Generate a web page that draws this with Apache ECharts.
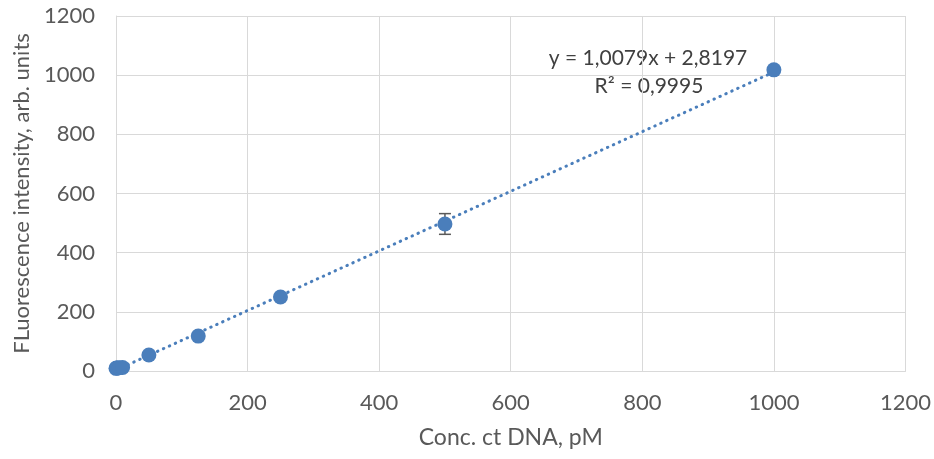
<!DOCTYPE html>
<html>
<head>
<meta charset="utf-8">
<script src="https://cdn.jsdelivr.net/npm/echarts@6/dist/echarts.min.js"></script>
<style>
  html, body { margin: 0; padding: 0; background: #fff; }
  #chart { width: 934px; height: 459px; }
</style>
</head>
<body>
<div id="chart"></div>
<script>
// Calibration data: concentration of ct DNA (pM) vs fluorescence intensity
const concentrations = [0, 1, 2, 5, 10, 50, 125, 250, 500, 1000];
const intensities    = [9, 10, 10, 11, 12, 54, 118, 250, 497, 1018];
// Error bar half-widths (only the 500 pM point has a visible bar)
const errors         = [0, 0, 0, 0, 0, 0, 0, 0, 35, 0];

// Linear fit reported on the chart
const fitSlope = 1.0079;
const fitIntercept = 2.8197;
const fitRange = [0, 1000];
const fitText = ['y = 1,0079x + 2,8197', 'R² = 0,9995'];

const axisTicks = [0, 200, 400, 600, 800, 1000, 1200];

const blue = '#4a7ebb';
const font = 'Lato, "Open Sans", sans-serif';

const points = concentrations.map((x, i) => [x, intensities[i]]);
const errData = concentrations
  .map((x, i) => [x, intensities[i] - errors[i], intensities[i] + errors[i]])
  .filter((d, i) => errors[i] > 0);
const fitLine = fitRange.map(x => [x, fitSlope * x + fitIntercept]);

const plainNumber = v => String(v);

const chart = echarts.init(document.getElementById('chart'));
chart.setOption({
  animation: false,
  grid: { left: 116, right: 26, top: 16, bottom: 88 },
  xAxis: {
    type: 'value',
    min: axisTicks[0], max: axisTicks[axisTicks.length - 1], interval: 200,
    name: 'Conc. ct DNA, pM',
    nameLocation: 'middle', nameGap: 55,
    nameTextStyle: { fontFamily: font, fontSize: 23, color: '#595959' },
    axisLine: { show: true, lineStyle: { color: '#d9d9d9', width: 1 } },
    axisTick: { show: false },
    axisLabel: { fontFamily: font, fontSize: 22, color: '#595959', margin: 21, formatter: plainNumber },
    splitLine: { show: true, lineStyle: { color: '#d9d9d9', width: 1 } }
  },
  yAxis: {
    type: 'value',
    min: axisTicks[0], max: axisTicks[axisTicks.length - 1], interval: 200,
    name: 'FLuorescence intensity, arb. units',
    nameLocation: 'middle', nameGap: 82,
    nameTextStyle: { fontFamily: font, fontSize: 22, color: '#595959' },
    axisLine: { show: true, lineStyle: { color: '#d9d9d9', width: 1 } },
    axisTick: { show: false },
    axisLabel: { fontFamily: font, fontSize: 22, color: '#595959', margin: 21, formatter: plainNumber },
    splitLine: { show: true, lineStyle: { color: '#d9d9d9', width: 1 } }
  },
  series: [
    {
      type: 'line',
      data: fitLine,
      showSymbol: false,
      symbol: 'none',
      lineStyle: { color: blue, width: 3, type: [0.5, 6], cap: 'round' },
      z: 1
    },
    {
      type: 'custom',
      data: errData,
      renderItem: function (params, api) {
        const x = api.value(0);
        const lo = api.coord([x, api.value(1)]);
        const hi = api.coord([x, api.value(2)]);
        const cap = 6;
        const style = { stroke: '#595959', lineWidth: 1.5 };
        return {
          type: 'group',
          children: [
            { type: 'line', shape: { x1: lo[0], y1: lo[1], x2: hi[0], y2: hi[1] }, style },
            { type: 'line', shape: { x1: lo[0] - cap, y1: lo[1], x2: lo[0] + cap, y2: lo[1] }, style },
            { type: 'line', shape: { x1: hi[0] - cap, y1: hi[1], x2: hi[0] + cap, y2: hi[1] }, style }
          ]
        };
      },
      z: 2
    },
    {
      type: 'scatter',
      data: points,
      symbol: 'circle',
      symbolSize: 15,
      itemStyle: { color: blue, opacity: 1 },
      z: 3
    }
  ],
  graphic: [
    {
      type: 'text', x: 648, y: 58,
      style: { text: fitText[0], font: '21px ' + font, fill: '#404040', align: 'center', verticalAlign: 'middle' }
    },
    {
      type: 'text', x: 649, y: 86,
      style: { text: fitText[1], font: '21px ' + font, fill: '#404040', align: 'center', verticalAlign: 'middle' }
    }
  ]
});
</script>
</body>
</html>
